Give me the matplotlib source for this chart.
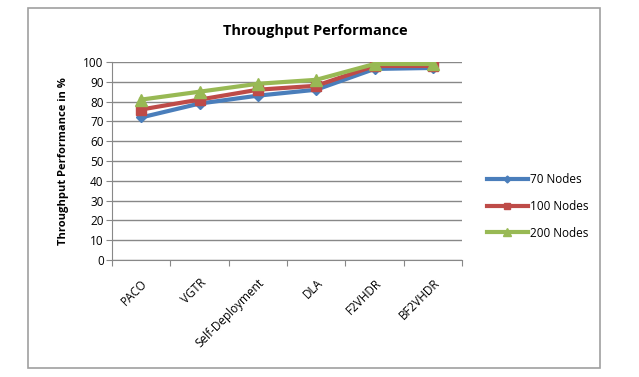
import matplotlib.pyplot as plt
from matplotlib.patches import Rectangle

plt.rcParams['font.family'] = ['Open Sans', 'DejaVu Sans']

categories = ['PACO', 'VGTR', 'Self-Deployment', 'DLA', 'F2VHDR', 'BF2VHDR']
nodes_70 = [72, 79, 83, 86, 96.5, 97]
nodes_100 = [76, 81, 86, 88, 98, 98]
nodes_200 = [81, 85, 89, 91, 99, 99]
yticks = list(range(0, 101, 10))

fig = plt.figure(figsize=(6.39, 3.77), dpi=100)
fig.patches.append(Rectangle((28 / 639, 1 - 368 / 377), 572 / 639, 360 / 377,
                             transform=fig.transFigure, fill=False,
                             edgecolor='#a0a0a0', linewidth=1.2))

ax = fig.add_axes([112 / 639, 1 - 260 / 377, 350 / 639, 198 / 377])
x = list(range(len(categories)))

ax.plot(x, nodes_70, color='#4a7ebb', marker='D', markersize=5, linewidth=3, label='70 Nodes')
ax.plot(x, nodes_100, color='#be4b48', marker='s', markersize=7, linewidth=3, label='100 Nodes')
ax.plot(x, nodes_200, color='#98b954', marker='^', markersize=8, linewidth=3, label='200 Nodes')

ax.set_xlim(-0.5, len(categories) - 0.5)
ax.set_ylim(0, 100)
ax.set_yticks(yticks)
ax.tick_params(axis='y', labelsize=8.5, length=4, color='#888888', pad=2)
ax.set_xticks([i - 0.5 for i in range(len(categories) + 1)])
ax.set_xticklabels([])
ax.set_xticks(x, minor=True)
ax.set_xticklabels(categories, minor=True, rotation=45, ha='right',
                   rotation_mode='anchor', fontsize=8.5)
ax.tick_params(axis='x', which='major', length=4, color='#888888')
ax.tick_params(axis='x', which='minor', length=0, pad=12)

ax.grid(axis='y', color='#888888', linewidth=1)
ax.set_axisbelow(True)
for side in ['top', 'right']:
    ax.spines[side].set_visible(False)
for side in ['left', 'bottom']:
    ax.spines[side].set_color('#888888')

fig.text(315 / 639, 1 - 31 / 377, 'Throughput Performance', fontsize=10.5,
         fontweight='bold', ha='center', va='center')
ax.set_ylabel('Throughput Performance in %', fontsize=8, fontweight='bold', labelpad=10)

ax.legend(loc='center left', bbox_to_anchor=(1.04, 0.27), frameon=False,
          fontsize=8.5, handlelength=3.5, labelspacing=1.15, handletextpad=0.2,
          markerscale=0.7)

fig.savefig('out.png', dpi=100)
